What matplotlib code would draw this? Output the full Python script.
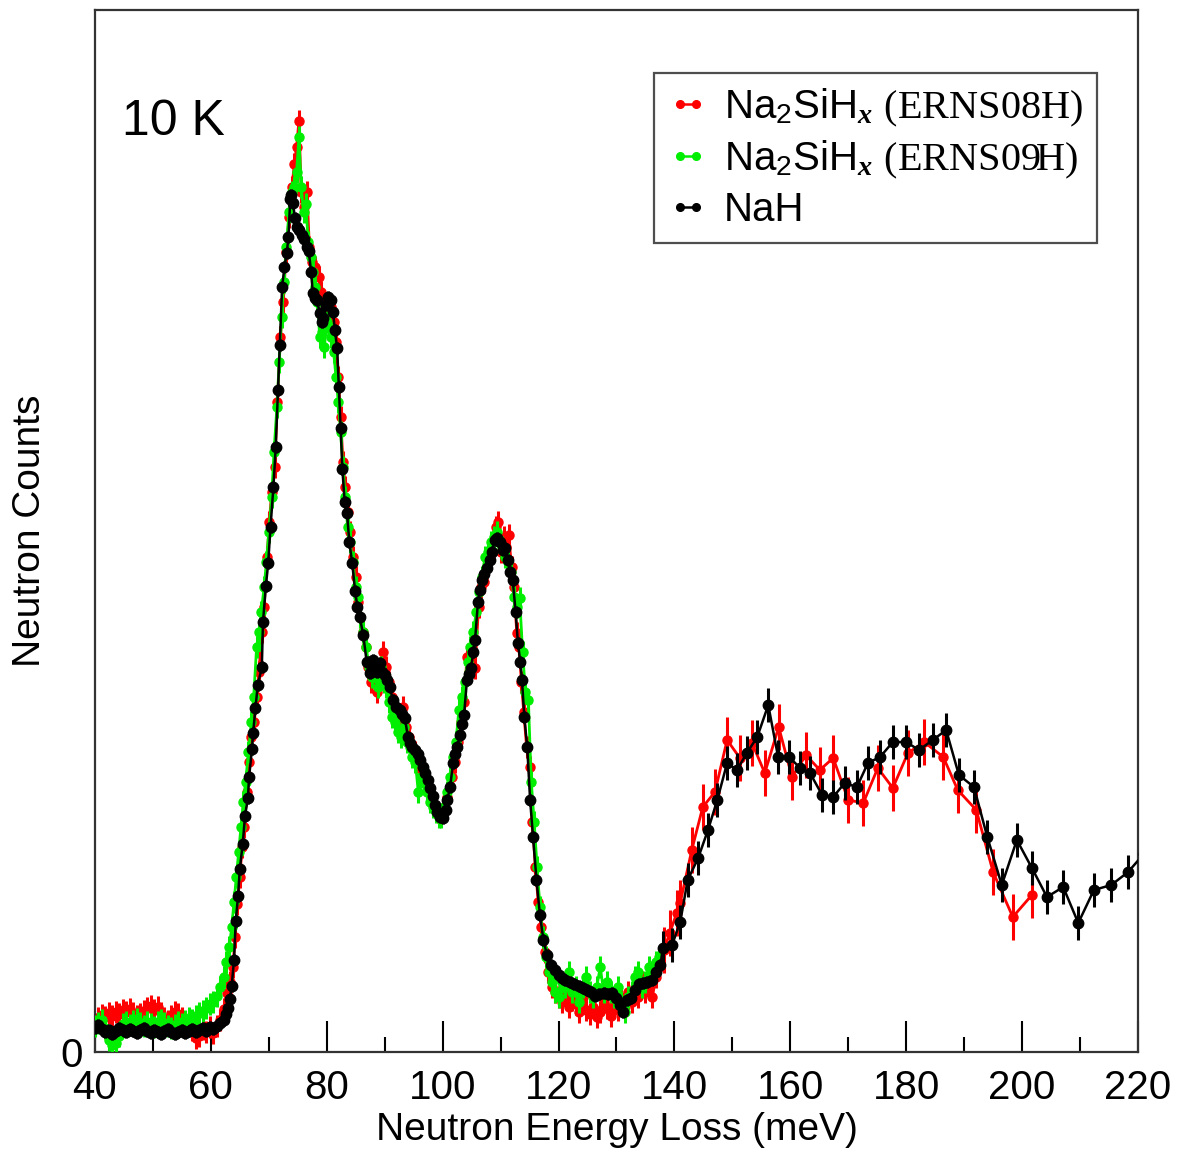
import numpy as np
import matplotlib.pyplot as plt
from matplotlib.lines import Line2D
from matplotlib.ticker import MultipleLocator

plt.rcParams['font.family'] = ['Liberation Sans', 'DejaVu Sans']
plt.rcParams['mathtext.fontset'] = 'custom'
plt.rcParams['mathtext.rm'] = 'Liberation Sans'
plt.rcParams['mathtext.it'] = 'Liberation Serif:italic:bold'
plt.rcParams['mathtext.tt'] = 'Liberation Serif'

# NaH (black)
nah_e = [40.0, 40.6, 41.2, 41.8, 42.4, 43.0, 43.6, 44.2, 44.8, 45.4, 46.0, 46.6, 47.2, 47.8, 48.4,
         49.0, 49.6, 50.2, 50.8, 51.4, 52.0, 52.6, 53.2, 53.8, 54.4, 55.0, 55.6, 56.2, 56.8, 57.4,
         58.0, 58.6, 59.2, 59.8, 60.4, 61.0, 61.6,
         62.2, 62.7, 63.0, 63.3, 63.6, 64.0, 64.3, 64.7, 65.0, 65.5, 65.9, 66.4, 66.6, 67.1, 67.3,
         67.7, 68.1, 68.8, 69.0, 69.5, 69.9, 70.3, 70.8, 71.2, 71.6, 71.9, 72.3, 72.7, 73.1, 73.4,
         73.7, 73.9, 74.2, 74.5, 74.9, 75.2, 75.7, 76.1, 76.6, 76.9, 77.3, 77.6, 78.0, 78.3, 78.8,
         79.1, 79.4, 79.9, 80.2, 80.7, 81.1, 81.4, 81.8, 82.1, 82.4, 82.7, 83.1, 83.5, 83.9, 84.4,
         84.9, 85.3, 85.7, 86.3, 86.9, 87.5, 88.0, 88.3, 88.7, 89.2, 89.6, 90.0, 90.4, 90.9, 91.4,
         92.0, 92.6, 93.0, 93.5, 94.0, 94.4, 94.8, 95.2, 95.7, 96.1, 96.6, 97.0, 97.4, 97.8, 98.3,
         98.7, 99.1, 99.5, 100.1, 100.5, 100.8, 101.3, 101.8, 102.2, 102.5, 103.0, 103.4, 103.7,
         104.2, 104.6, 104.9, 105.3, 105.6, 106.1, 106.5, 106.8, 107.2, 107.7, 108.1, 108.5, 109.0,
         109.4, 109.9, 110.4, 110.8, 111.3, 111.7, 112.1, 112.6, 113.0, 113.4, 113.7, 114.1, 114.6,
         115.1, 115.6, 116.2, 116.8, 117.4, 118.0, 118.7, 119.4, 120.1, 120.6, 121.2, 121.9, 122.7,
         123.5, 124.2, 124.9, 125.6, 126.3, 127.0, 127.8, 128.5, 129.2, 129.9, 130.6, 131.2, 131.8,
         132.5, 133.2, 133.9, 134.6, 135.3, 136.1, 136.9, 137.6,
         138.0, 139.6, 141.0, 142.3, 144.1, 145.8, 147.4, 149.1, 150.8, 152.5, 154.3, 156.2, 157.9,
         159.8, 161.7, 163.4, 165.5, 167.4, 169.4, 171.5, 173.4, 175.5, 177.7, 180.0, 182.2, 184.6,
         186.9, 189.1, 191.7, 194.0, 196.5, 199.1, 201.7, 204.3, 207.1, 209.7, 212.4, 215.4, 218.3,
         221.0]
nah_y = [2.4, 2.7, 2.3, 2.0, 2.2, 1.8, 2.1, 2.4, 2.2, 2.0, 2.3, 2.1, 1.9, 2.2, 2.4,
         2.1, 1.9, 2.2, 2.0, 1.8, 2.1, 2.3, 2.0, 1.8, 2.0, 2.2, 1.9, 2.1, 2.3, 2.0,
         2.2, 2.4, 2.1, 2.5, 2.3, 2.6, 2.9,
         3.2, 3.8, 4.4, 5.3, 6.6, 9.2, 13.1, 15.6, 18.3, 20.8, 23.6, 25.4, 27.5, 30.3, 31.9,
         34.4, 36.7, 38.5, 43.0, 46.6, 48.9, 52.5, 56.5, 60.5, 66.2, 70.7, 76.5, 78.5, 79.9, 81.5,
         85.3, 85.7, 84.9, 83.4, 82.5, 82.2, 81.7, 81.3, 80.5, 80.1, 78.0, 75.9, 75.4, 75.2, 73.9,
         73.0, 73.4, 74.7, 75.5, 75.2, 74.0, 72.2, 70.4, 66.5, 62.4, 58.3, 55.0, 53.9, 51.0, 48.9,
         46.1, 44.5, 43.5, 41.7, 39.0, 37.9, 39.2, 38.9, 38.0, 38.9, 38.0, 37.7, 37.2, 36.5, 35.2,
         34.5, 34.2, 33.8, 33.4, 31.5, 30.9, 30.5, 30.2, 29.8, 29.2, 28.5, 27.9, 27.2, 26.4, 25.6,
         24.7, 24.0, 23.5, 23.4, 24.2, 25.2, 26.5, 28.9, 29.8, 30.5, 31.7, 32.8, 33.7,
         37.2, 37.8, 38.4, 40.0, 41.2, 45.0, 46.2, 47.2, 47.8, 48.4, 49.2, 50.0, 51.2,
         51.4, 51.0, 50.2, 50.4, 49.2, 48.0, 47.2, 44.0, 40.9, 39.0, 37.2, 33.5, 30.5,
         25.2, 21.5, 17.2, 13.7, 11.2, 9.7, 8.7, 8.2, 7.7, 7.4, 7.2, 7.0, 6.8,
         6.6, 6.4, 6.2, 6.0, 5.6, 5.8, 5.9, 5.8, 5.9, 5.4, 4.7, 4.0, 5.2,
         5.4, 6.2, 6.8, 6.9, 7.0, 7.2, 8.0, 8.7,
         10.4, 10.7, 13.0, 17.2, 19.4, 22.2, 25.2, 28.9, 28.2, 29.9, 31.5, 34.7, 29.5,
         29.5, 28.4, 27.9, 25.7, 25.5, 26.9, 26.5, 28.9, 29.5, 31.0, 31.0, 30.2, 31.2,
         32.2, 27.7, 26.5, 21.5, 16.7, 21.2, 18.4, 15.5, 16.5, 12.9, 16.2, 16.7, 18.0,
         19.8]

# Na2SiHx ERNS08H (red)
r08_e = [40.0, 40.6, 41.2, 41.8, 42.4, 43.0, 43.6, 44.2, 44.8, 45.4, 46.0, 46.6, 47.2, 47.8, 48.4,
         49.0, 49.6, 50.2, 50.8, 51.4, 52.0, 52.6, 53.2, 53.8, 54.4, 55.0, 55.6, 56.2, 56.8, 57.4,
         58.0, 58.6, 59.2, 59.8, 60.4, 61.0, 61.6, 62.2, 62.8, 63.3, 63.8, 64.2, 64.6, 65.0, 65.4,
         65.8, 66.2, 66.6, 67.0, 67.5, 67.9, 68.3, 68.8, 69.2, 69.7, 70.1, 70.5, 71.0, 71.5,
         72.0, 72.5, 73.0, 73.5, 74.0, 74.4, 74.8, 75.2, 75.6, 76.0, 76.6, 77.0, 77.5, 78.0, 78.7,
         79.0, 79.4, 79.8, 80.3, 80.8, 81.2, 81.6, 82.0, 82.4, 82.8, 83.2, 83.6, 84.0, 84.5, 85.0,
         85.4, 85.8, 86.3, 86.7, 87.2, 87.7, 88.2, 88.7, 89.2, 89.7, 90.2, 90.7, 91.2, 91.7, 92.2,
         92.7, 93.2, 93.7, 94.2, 94.7, 95.2, 95.7, 96.2, 96.7, 97.2, 97.7, 98.2, 98.7, 99.2, 99.7,
         100.2, 100.7, 101.2, 101.7, 102.2, 102.7, 103.2, 103.7, 104.2, 104.9, 105.6, 106.2, 106.7,
         107.2, 107.7, 108.2, 108.7, 109.2, 109.6, 110.1, 110.6, 111.0, 111.4, 111.9, 112.3, 112.8,
         113.2, 113.6, 114.0, 114.5, 115.0, 115.5, 116.0, 116.5, 117.0, 117.6, 118.2, 118.8, 119.4,
         120.0, 120.6, 121.2, 121.8, 122.4, 123.0, 123.6, 124.2, 124.8, 125.4, 126.0, 126.6, 127.2,
         127.8, 128.4, 129.0, 129.6, 130.2, 130.8, 131.4, 132.0, 132.6, 133.2, 133.8, 134.4, 135.0,
         135.6, 136.2, 136.8, 137.4, 138.2,
         139.2, 140.4, 141.0, 143.0, 144.9, 147.0, 149.1, 151.3, 153.4, 155.6, 158.0, 160.3, 162.7,
         165.1, 167.4, 170.0, 172.6, 175.1, 177.7, 180.3, 183.1, 186.4, 188.9, 192.1, 195.0, 198.4,
         201.7]
r08_y = [2.8, 3.4, 3.7, 3.5, 3.9, 3.6, 4.0, 3.8, 4.2, 4.0, 4.3, 3.9, 3.6, 3.8, 4.1,
         4.4, 4.6, 4.2, 4.5, 3.9, 3.4, 3.1, 3.6, 4.0, 3.8, 3.4, 3.0, 2.7, 2.2, 1.4,
         1.6, 2.3, 2.0, 2.5, 1.9, 2.6, 3.2, 4.3, 5.9, 7.0, 8.5, 11.5, 14.8, 17.5, 20.5,
         22.5, 26.0, 29.0, 31.5, 33.0, 35.5, 38.0, 42.0, 44.5, 49.5, 53.0, 56.0, 58.5, 65.0,
         71.5, 75.0, 80.0, 83.5, 86.5, 88.8, 90.5, 93.1, 86.0, 84.5, 86.0, 80.5, 79.0, 78.5, 77.5,
         76.0, 75.0, 74.0, 73.5, 74.5, 73.0, 71.0, 67.5, 63.5, 59.0, 56.5, 54.0, 52.0, 49.5, 47.5,
         45.0, 43.5, 42.0, 40.5, 38.5, 37.0, 37.5, 36.0, 38.0, 40.0, 38.5, 37.0, 35.5, 34.5, 34.0,
         33.5, 34.5, 32.5, 31.5, 30.5, 30.0, 29.0, 28.8, 28.0, 27.2, 26.0, 25.0, 24.5, 24.0, 23.8,
         24.0, 25.5, 26.5, 27.5, 29.0, 31.0, 33.0, 35.0, 39.5, 40.5, 38.4, 44.5, 46.5,
         47.0, 48.5, 49.5, 51.0, 52.5, 53.0, 50.0, 51.5, 50.5, 51.7, 48.5, 46.5, 41.9,
         40.5, 37.0, 34.0, 30.5, 28.5, 23.0, 18.5, 15.0, 12.5, 10.0, 8.0, 6.5, 6.0,
         5.5, 5.0, 5.8, 4.5, 5.2, 4.8, 4.0, 5.5, 4.2, 3.8, 4.5, 3.5, 4.0,
         5.0, 4.4, 3.6, 4.8, 4.2, 5.5, 4.5, 6.0, 5.0, 6.5, 5.5, 7.0, 6.0,
         6.5, 5.5, 7.5, 8.5, 10.2,
         11.9, 13.9, 14.9, 20.2, 24.5, 26.0, 31.2, 29.4, 30.9, 27.9, 32.5, 27.5, 29.7,
         28.2, 29.4, 25.2, 24.9, 28.4, 26.4, 29.9, 31.0, 29.5, 26.2, 24.2, 18.0, 13.5,
         15.7]

# Na2SiHx ERNS09H (green)
g09_e = [40.0, 40.6, 41.2, 41.8, 42.4, 43.0, 43.6, 44.2, 44.8, 45.4, 46.0, 46.6, 47.2, 47.8, 48.4,
         49.0, 49.6, 50.2, 50.8, 51.4, 52.0, 52.6, 53.2, 53.8, 54.4, 55.0, 55.6, 56.2, 56.8, 57.4,
         58.0, 58.6, 59.2, 59.8, 60.4, 61.0, 61.6, 62.2, 62.7, 63.2, 63.6, 64.0, 64.4, 64.8, 65.2,
         65.6, 66.0, 66.5, 67.0, 67.4, 67.9, 68.3, 68.7, 69.2, 69.6, 70.0, 70.5, 70.9, 71.4, 71.8,
         72.2, 72.6, 73.0, 73.5, 74.0, 74.4, 74.8, 75.2, 75.6, 76.0, 76.4, 76.8, 77.2, 77.6, 78.0,
         78.4, 78.8, 79.2, 79.6, 80.0, 80.4, 80.8, 81.2, 81.6, 82.0, 82.4, 82.8, 83.2, 83.6, 84.0,
         84.5, 85.0, 85.4, 85.8, 86.3, 86.8, 87.3, 87.8, 88.3, 88.8, 89.3, 89.8, 90.3, 90.8, 91.3,
         91.8, 92.3, 92.8, 93.3, 93.8, 94.3, 94.8, 95.3, 95.8, 96.3, 96.8, 97.3, 97.8, 98.3, 98.8,
         99.3, 99.8, 100.3, 100.8, 101.3, 101.8, 102.3, 102.8, 103.3, 103.8, 104.3, 104.8, 105.3,
         105.8, 106.3, 106.8, 107.3, 107.8, 108.3, 108.8, 109.3, 109.8, 110.3, 110.8, 111.3, 111.8,
         112.3, 112.8, 113.3, 113.8, 114.3, 114.8, 115.3, 115.8, 116.3, 116.8, 117.3, 117.8, 118.3,
         118.8, 119.4, 120.0, 120.6, 121.2, 121.8, 122.4, 123.0, 123.6, 124.2, 124.8, 125.4, 126.0,
         126.6, 127.2, 127.8, 128.4, 129.0, 129.6, 130.2, 130.8, 131.4, 132.0, 132.6, 133.2, 133.8,
         134.4, 135.0, 135.6, 136.2, 136.8, 137.4]
g09_y = [2.6, 2.9, 3.2, 2.4, 1.2, 0.7, 0.9, 1.6, 2.8, 3.0, 2.7, 3.1, 3.3, 2.9, 2.6,
         3.0, 2.8, 2.5, 3.0, 3.2, 2.9, 2.6, 2.4, 2.7, 3.0, 2.8, 3.1, 3.4, 3.2, 3.6,
         3.9, 4.1, 4.4, 4.8, 5.0, 5.6, 6.5, 7.5, 9.0, 10.5, 12.5, 15.0, 17.5, 20.0, 22.5,
         25.0, 27.0, 30.0, 33.0, 35.5, 40.5, 42.0, 44.0, 46.5, 49.0, 52.0, 55.5, 60.0, 64.5, 69.0,
         73.5, 77.0, 80.5, 84.0, 86.0, 86.5, 88.0, 91.5, 86.5, 84.0, 84.8, 81.0, 79.5, 78.0, 76.5,
         75.0, 71.5, 72.0, 70.5, 73.0, 72.5, 71.5, 70.0, 67.5, 65.0, 62.0, 58.5, 55.5, 52.5, 51.0,
         49.0, 46.5, 45.5, 43.5, 42.0, 40.5, 38.5, 37.5, 38.0, 36.5, 38.5, 37.0, 36.5, 35.0, 33.5,
         33.0, 32.0, 31.5, 32.5, 31.0, 30.5, 29.5, 29.0, 26.0, 27.5, 27.0, 26.0, 25.0, 24.5, 24.0,
         23.5, 23.5, 24.5, 26.0, 27.5, 29.5, 31.0, 34.2, 35.5, 37.0, 39.0, 40.5, 42.0,
         44.0, 46.0, 47.5, 49.5, 50.0, 51.0, 51.5, 52.0, 51.0, 50.5, 49.5, 49.0, 48.0,
         45.5, 44.5, 45.4, 40.0, 36.0, 35.2, 27.0, 23.0, 18.5, 14.5, 11.5, 9.5, 8.0,
         7.0, 6.0, 5.5, 7.0, 6.5, 8.0, 6.0, 6.5, 5.0, 6.5, 7.5, 6.0, 5.5,
         6.5, 8.5, 6.0, 7.0, 6.0, 5.5, 6.5, 5.0, 4.0, 5.5, 6.0, 7.5, 8.0,
         6.5, 7.0, 8.5, 8.0, 9.0, 9.5]

labels = [r'Na$_2$SiH$_x$ $\mathtt{(ERNS08H)}$',
          r'Na$_2$SiH$_x$ $\mathtt{(ERNS09H)}$',
          'NaH']
colors = ['#ff0000', '#00ee00', '#000000']

# error bar sizes: fine-binned part below 138 meV, coarse part above
err_fine = {'red': 1.1, 'green': 1.1, 'black': 0.6}
err_coarse = {'red': 2.3, 'black': 1.7}


def errs(e, key):
    e = np.asarray(e)
    return np.where(e < 138.0, err_fine[key], err_coarse.get(key, err_fine[key]))


fig = plt.figure(figsize=(11.78, 11.53), dpi=100)
ax = fig.add_axes([0.0806, 0.0876, 0.8854, 0.9037])

ax.errorbar(r08_e, r08_y, yerr=errs(r08_e, 'red'), fmt='-o', color=colors[0],
            ms=6.5, lw=2.0, elinewidth=2.2, capsize=0, zorder=2)
ax.errorbar(g09_e, g09_y, yerr=errs(g09_e, 'green'), fmt='-o', color=colors[1],
            ms=6.5, lw=2.0, elinewidth=2.2, capsize=0, zorder=3)
ax.errorbar(nah_e, nah_y, yerr=errs(nah_e, 'black'), fmt='-o', color=colors[2],
            ms=7.5, lw=1.8, elinewidth=2.2, capsize=0, zorder=4)

ax.set_xlim(40, 220)
ax.set_ylim(0, 104.2)
ax.xaxis.set_major_locator(MultipleLocator(20))
ax.xaxis.set_minor_locator(MultipleLocator(10))
ax.tick_params(axis='x', which='major', direction='in', length=22, width=1.5,
               labelsize=29, pad=12, top=False)
ax.tick_params(axis='x', which='minor', direction='in', length=11, width=1.5, top=False)
ax.set_yticks([0])
ax.tick_params(axis='y', length=0, labelsize=29, pad=9)
for s in ax.spines.values():
    s.set_linewidth(1.6)
    s.set_color('#333333')

ax.set_xlabel('Neutron Energy Loss (meV)', fontsize=28, labelpad=4)
ax.set_ylabel('Neutron Counts', fontsize=28)
ax.yaxis.set_label_coords(-0.045, 0.5)

ax.text(0.026, 0.893, '10 K', transform=ax.transAxes, fontsize=36, va='center', ha='left')

handles = [Line2D([], [], color=c, marker='o', ms=5.5, lw=1.8) for c in colors]
leg = ax.legend(handles, labels, loc='upper right', bbox_to_anchor=(0.961, 0.940),
                borderaxespad=0, numpoints=2, handlelength=1.0, handletextpad=0.4,
                fontsize=29, frameon=True, fancybox=False, labelspacing=0.25,
                borderpad=0.35)
leg.get_frame().set_edgecolor('#222222')
leg.get_frame().set_linewidth(1.6)

fig.savefig('out.png', dpi=100)
